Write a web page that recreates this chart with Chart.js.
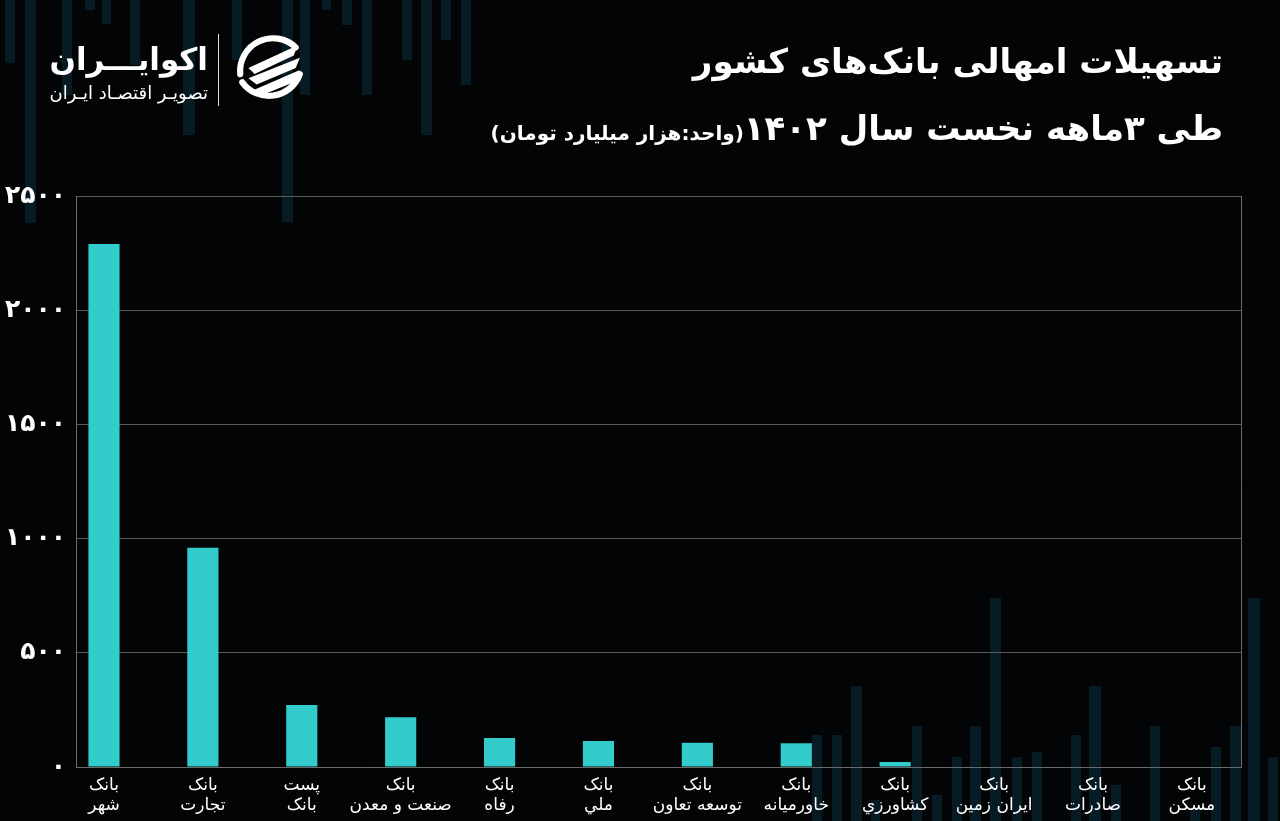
<!DOCTYPE html>
<html lang="fa">
<head>
<meta charset="utf-8">
<title>تسهیلات امهالی بانک‌های کشور</title>
<script src="https://cdn.jsdelivr.net/npm/chart.js@4"></script>
<style>
  html, body { margin: 0; padding: 0; background: #030405; }
  body { width: 1280px; height: 821px; position: relative; overflow: hidden; font-family: "DejaVu Sans", sans-serif; color: #fff; }
  .deco { position: absolute; background: #08202a; opacity: 0.85; }
  #chartWrap { position: absolute; left: 0; top: 0; width: 1280px; height: 821px; }
  .title { position: absolute; right: 57px; direction: rtl; white-space: nowrap; font-weight: bold; }
  .t1 { top: 41px; font-size: 34px; }
  .t2 { top: 108px; font-size: 34px; }
  .t2 small { font-size: 20px; }
  .logo { position: absolute; left: 50px; top: 30px; }
  .logo .name { position: absolute; left: 0; top: 11px; width: 158px; text-align: right; direction: rtl; font-size: 31px; font-weight: bold; white-space: nowrap; }
  .logo .sub { position: absolute; left: 0; top: 52px; width: 158px; text-align: right; direction: rtl; font-size: 18px; white-space: nowrap; }
  .logo .sep { position: absolute; left: 168px; top: 4px; width: 1px; height: 72px; background: #ddd; }
  .logo svg { position: absolute; left: 181px; top: 3px; }
</style>
</head>
<body>
<div id="decoLayer"></div>
<div id="chartWrap"><canvas id="chart" width="1280" height="821"></canvas></div>

<div class="logo">
  <div class="name">اکوایـــران</div>
  <div class="sub">تصویـر اقتصـاد ایـران</div>
  <div class="sep"></div>
  <svg width="76" height="74" viewBox="0 0 72 72">
    <path d="M62 14 A32 32 0 0 0 8 40" stroke="#fff" stroke-width="6" fill="none" stroke-linecap="round"/>
    <path d="M10 48 A32 32 0 0 0 66 40" stroke="#fff" stroke-width="6" fill="none" stroke-linecap="round"/>
    <path d="M16 34 L64 12 L60 22 L22 40 Z" fill="#fff"/>
    <path d="M16 44 L66 24 L62 34 L24 50 Z" fill="#fff"/>
    <path d="M20 56 L66 36 L60 48 L30 60 Z" fill="#fff"/>
  </svg>
</div>

<div class="title t1">تسهیلات امهالی بانک‌های کشور</div>
<div class="title t2">طی ۳ماهه نخست سال ۱۴۰۲<small>(واحد:هزار میلیارد تومان)</small></div>

<script>
// data (thousand billion toman)
const banks = [
  ["بانک", "شهر"],
  ["بانک", "تجارت"],
  ["پست", "بانک"],
  ["بانک", "صنعت و معدن"],
  ["بانک", "رفاه"],
  ["بانک", "ملي"],
  ["بانک", "توسعه تعاون"],
  ["بانک", "خاورمیانه"],
  ["بانک", "کشاورزي"],
  ["بانک", "ایران زمین"],
  ["بانک", "صادرات"],
  ["بانک", "مسکن"]
];
const amounts = [2290, 960, 272, 218, 127, 114, 106, 104, 22, 0, 0, 0];
const yTicks = [0, 500, 1000, 1500, 2000, 2500];

// faint background bars (decoration only): [left, width, top, bottom]
const deco = [
  [5,10,0,63],[25,11,0,223],[62,10,0,95],[85,10,0,10],[102,9,0,24],[130,10,0,65],
  [183,12,0,135],[232,10,0,60],[282,11,0,222],[300,10,0,95],[322,9,0,10],[342,10,0,25],
  [362,10,0,95],[402,10,0,60],[421,11,0,135],[441,10,0,40],[461,10,0,85],
  [812,10,735,821],[832,10,735,821],[851,11,686,821],[871,9,800,821],[912,10,726,821],
  [932,10,795,821],[952,10,757,821],[970,11,726,821],[990,11,598,821],[1012,10,757,821],
  [1032,10,752,821],[1071,10,735,821],[1089,12,686,821],[1111,10,785,821],[1150,10,726,821],
  [1190,10,810,821],[1211,10,747,821],[1230,11,726,821],[1248,12,598,821],[1268,10,757,821]
];
const decoLayer = document.getElementById("decoLayer");
deco.forEach(([l, w, t, b]) => {
  const d = document.createElement("div");
  d.className = "deco";
  d.style.left = l + "px";
  d.style.width = w + "px";
  d.style.top = t + "px";
  d.style.height = (b - t) + "px";
  decoLayer.appendChild(d);
});

const faDigits = "۰۱۲۳۴۵۶۷۸۹";
const toFa = (v) => String(v).replace(/\d/g, (d) => faDigits[d]);

// right border of the plot area
const rightBorder = {
  id: "rightBorder",
  afterDraw(chart) {
    const { ctx, chartArea } = chart;
    ctx.save();
    ctx.strokeStyle = "#6b6b6b";
    ctx.lineWidth = 1;
    ctx.beginPath();
    ctx.moveTo(Math.round(chartArea.right) + 0.5, chartArea.top);
    ctx.lineTo(Math.round(chartArea.right) + 0.5, chartArea.bottom);
    ctx.stroke();
    ctx.restore();
  }
};

const ctx = document.getElementById("chart").getContext("2d");
new Chart(ctx, {
  type: "bar",
  data: {
    datasets: [{
      data: amounts.map((v, i) => ({ x: i, y: v })),
      backgroundColor: "#33cccc",
      borderWidth: 0,
      barPercentage: 1,
      categoryPercentage: 0.315
    }]
  },
  plugins: [rightBorder],
  options: {
    responsive: false,
    animation: false,
    layout: { padding: { top: 196, right: 39, bottom: 0, left: 0 } },
    plugins: { legend: { display: false }, tooltip: { enabled: false } },
    scales: {
      x: {
        type: "linear",
        offset: false,
        min: -0.283,
        max: 11.497,
        afterBuildTicks: (axis) => { axis.ticks = banks.map((_, i) => ({ value: i })); },
        afterFit: (axis) => { axis.height = 54; },
        grid: { display: false, offset: false },
        border: { display: true, color: "#6b6b6b" },
        ticks: {
          color: "#ffffff",
          font: { family: "DejaVu Sans", size: 17 },
          maxRotation: 0,
          autoSkip: false,
          padding: 0,
          callback: (v) => banks[v]
        }
      },
      y: {
        min: 0,
        max: 2500,
        afterBuildTicks: (axis) => { axis.ticks = yTicks.map((v) => ({ value: v })); },
        afterFit: (axis) => { axis.width = 76; },
        grid: { color: "#5a5a5a", lineWidth: 1, drawTicks: false },
        border: { display: true, color: "#6b6b6b" },
        ticks: {
          color: "#ffffff",
          font: { family: "DejaVu Sans", size: 25, weight: "bold" },
          padding: 10,
          callback: (v) => toFa(v)
        }
      }
    }
  }
});
</script>
</body>
</html>
